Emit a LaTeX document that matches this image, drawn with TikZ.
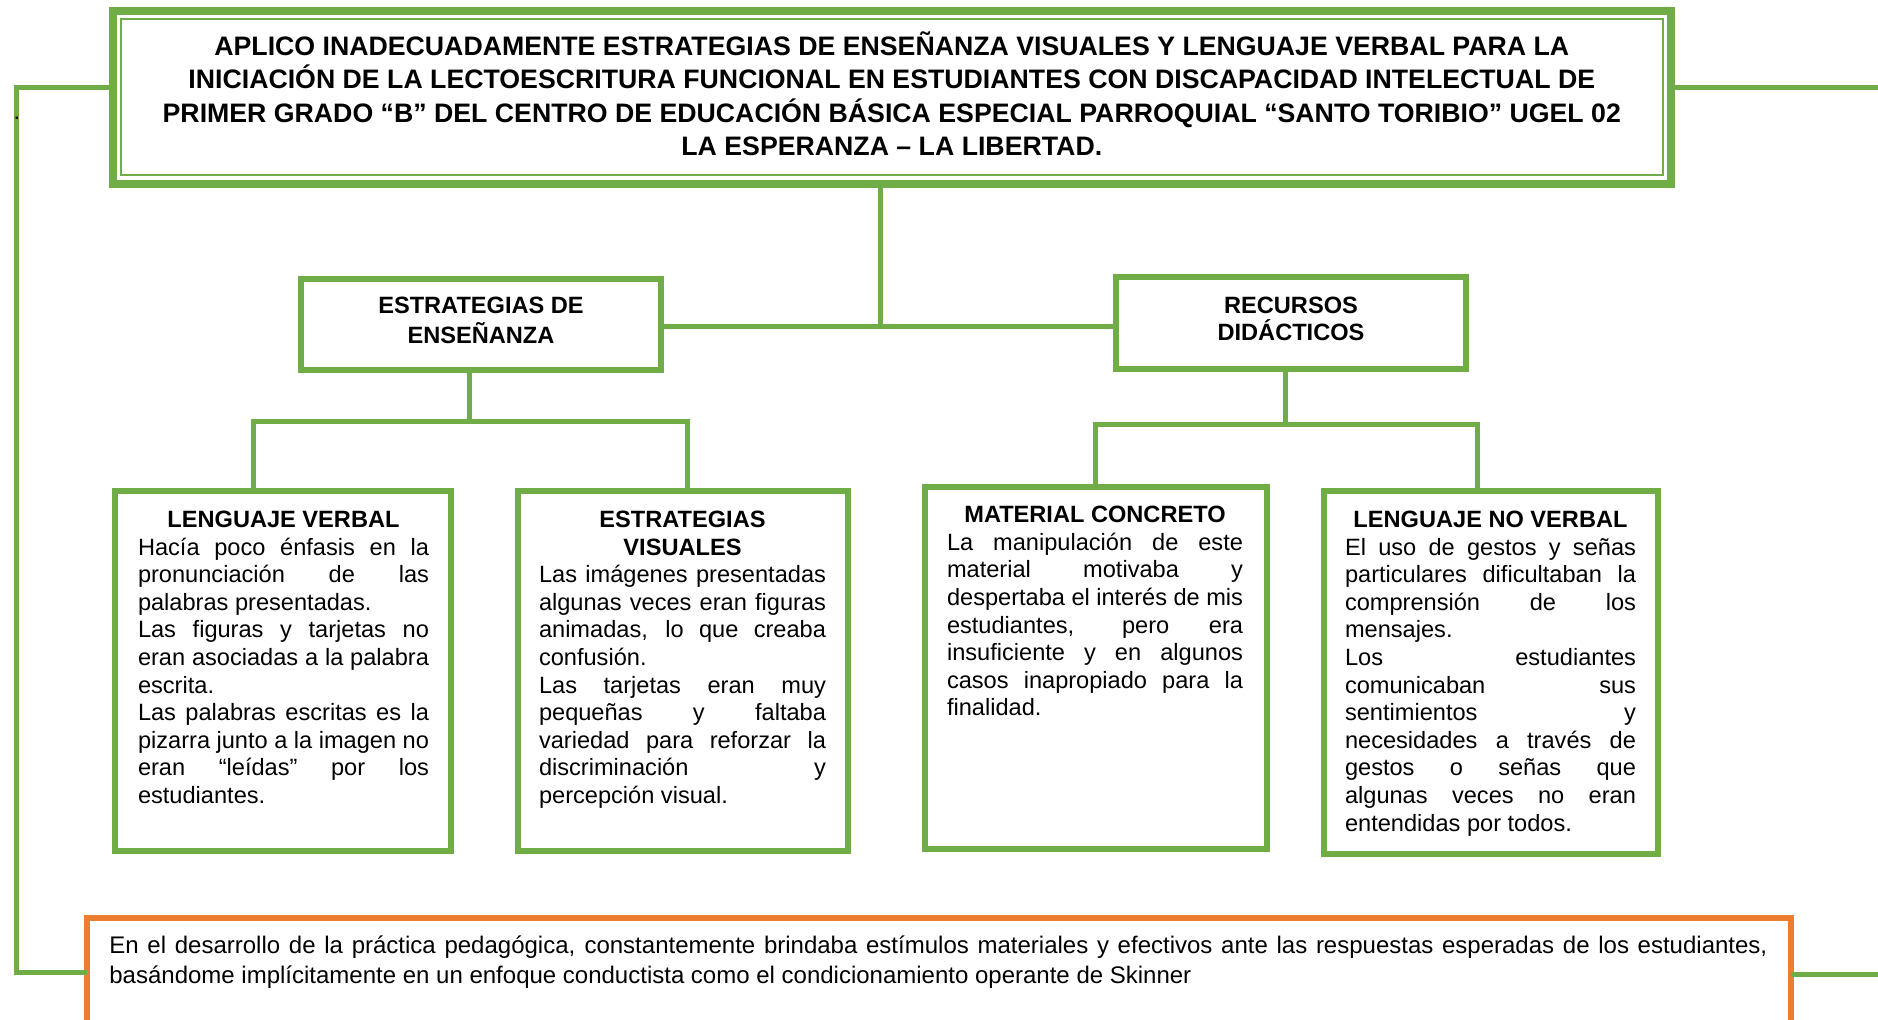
\documentclass[tikz,border=0pt]{standalone}
\usepackage{fontspec}
\setmainfont{Liberation Sans}
\definecolor{gr}{HTML}{70AD47}
\definecolor{orng}{HTML}{ED7D31}
\newcommand{\nsp}{\spaceskip=0pt\xspaceskip=0pt\relax}
\newcommand{\rsp}{\spaceskip=\fontdimen2\font\xspaceskip=\fontdimen2\font\relax}
\newcommand{\jl}[1]{\makebox[\hsize][s]{\nsp #1}}
\newcommand{\cl}[1]{\makebox[\hsize][c]{\bfseries\rsp #1}}
\begin{document}
\begin{tikzpicture}[x=0.5pt,y=-0.5pt,
  gbox/.style={draw=gr, line width=3pt, fill=white, inner sep=0pt, outer sep=0pt},
  obox/.style={draw=orng, line width=3.3pt, fill=white, inner sep=0pt, outer sep=0pt},
  conn/.style={draw=gr, line width=2.5pt},
  body/.style={anchor=north, inner sep=0pt, align=left, font=\fontsize{11.8}{13.8}\selectfont},
  head/.style={anchor=north, inner sep=0pt, align=center, font=\fontsize{11.8}{15}\selectfont\bfseries}]
\useasboundingbox (0,0) rectangle (1878,1019);
\clip (0,0) rectangle (1878,1019);

% boxes
\node[gbox, line width=4pt, minimum width=779.25pt, minimum height=86.35pt] (top) at (891.8,97.7) {};
\draw[gr, line width=1pt] ([xshift=4.1pt,yshift=-3.9pt]top.north west) rectangle ([xshift=-4.2pt,yshift=4.5pt]top.south east);
\node[gbox, minimum width=180pt, minimum height=45.5pt] (est) at (481,324.5) {};
\node[gbox, minimum width=175pt, minimum height=46pt] (rec) at (1291,323) {};
\node[gbox, minimum width=168pt, minimum height=180pt] (lv) at (283,671) {};
\node[gbox, minimum width=165.25pt, minimum height=180pt] (ev) at (682.75,671) {};
\node[gbox, minimum width=170.85pt, minimum height=180.85pt] (mc) at (1095.85,667.85) {};
\node[gbox, minimum width=167pt, minimum height=181.35pt] (lnv) at (1491,672.35) {};
\node[obox, minimum width=852pt, minimum height=91pt] (ob) at (939,1009) {};

% junction coordinates
\coordinate (m) at (880,326);
\coordinate (j1) at (469.5,421);
\coordinate (j1l) at (253,421);
\coordinate (j1r) at (687,421);
\coordinate (j2) at (1285.5,424);
\coordinate (j2l) at (1095,424);
\coordinate (j2r) at (1477.5,424);
\coordinate (l1) at (16,87.5);
\coordinate (l2) at (16,972);
\coordinate (re1) at (1885,87.5);
\coordinate (re2) at (1885,974);

% connectors
\draw[conn] (top.south -| m) -- (m);
\draw[conn] (m -| est.east) -- (m -| rec.west);
\draw[conn] (j1 |- est.south) -- (j1);
\draw[conn] (j1l |- lv.north) -- (j1l) -- (j1r) -- (j1r |- ev.north);
\draw[conn] (j2 |- rec.south) -- (j2);
\draw[conn] (j2l |- mc.north) -- (j2l) -- (j2r) -- (j2r |- lnv.north);
\draw[conn] (top.west |- l1) -- (l1) -- (l2) -- (l2 -| ob.west);
\draw[conn] (top.east |- l1) -- (re1);
\draw[conn] (ob.east |- re2) -- (re2);

\node[inner sep=0pt, anchor=base, font=\fontsize{11.8}{13.8}\selectfont] (dot) at (17,119) {.};

% texts
\node[anchor=north, inner sep=0pt, align=center, text width=760pt, font=\fontsize{13.35}{16.75}\selectfont\bfseries] (toptext) at (891.8,25)
{\rsp\rule{0pt}{15pt}APLICO INADECUADAMENTE ESTRATEGIAS DE ENSEÑANZA VISUALES Y LENGUAJE VERBAL PARA LA\\
INICIACIÓN DE LA LECTOESCRITURA FUNCIONAL EN ESTUDIANTES CON DISCAPACIDAD INTELECTUAL DE\\
PRIMER GRADO “B” DEL CENTRO DE EDUCACIÓN BÁSICA ESPECIAL PARROQUIAL “SANTO TORIBIO” UGEL 02\\
LA ESPERANZA – LA LIBERTAD.};

\node[head, text width=170pt] (estt) at (481,289.5) {\rsp\rule{0pt}{12pt}ESTRATEGIAS DE\\ ENSEÑANZA};
\node[head, text width=170pt, font=\fontsize{11.8}{13.5}\selectfont\bfseries] (rect) at (1291,289) {\rsp\rule{0pt}{12pt}RECURSOS\\ DIDÁCTICOS};

\node[body, text width=145.5pt] (lvt) at (283.5,503) {\rsp\rule{0pt}{12pt}\cl{LENGUAJE VERBAL}\\
\jl{Hacía poco énfasis en la}\\
\jl{pronunciación de las}\\
palabras presentadas.\\
\jl{Las figuras y tarjetas no}\\
\jl{eran asociadas a la palabra}\\
escrita.\\
\jl{Las palabras escritas es la}\\
\jl{pizarra junto a la imagen no}\\
\jl{eran “leídas” por los}\\
estudiantes.};

\node[body, text width=143.5pt] (evt) at (682.5,503) {\rsp\rule{0pt}{12pt}\cl{ESTRATEGIAS}\\
\cl{VISUALES}\\
\jl{Las imágenes presentadas}\\
\jl{algunas veces eran figuras}\\
\jl{animadas, lo que creaba}\\
confusión.\\
\jl{Las tarjetas eran muy}\\
\jl{pequeñas y faltaba}\\
\jl{variedad para reforzar la}\\
\jl{discriminación y}\\
percepción visual.};

\node[body, text width=148pt] (mct) at (1095,498.3) {\rsp\rule{0pt}{12pt}\cl{MATERIAL CONCRETO}\\
\jl{La manipulación de este}\\
\jl{material motivaba y}\\
\jl{despertaba el interés de mis}\\
\jl{estudiantes, pero era}\\
\jl{insuficiente y en algunos}\\
\jl{casos inapropiado para la}\\
finalidad.};

\node[body, text width=145.5pt] (lnvt) at (1490.5,503) {\rsp\rule{0pt}{12pt}\cl{LENGUAJE NO VERBAL}\\
\jl{El uso de gestos y señas}\\
\jl{particulares dificultaban la}\\
\jl{comprensión de los}\\
mensajes.\\
\jl{Los estudiantes}\\
\jl{comunicaban sus}\\
\jl{sentimientos y}\\
\jl{necesidades a través de}\\
\jl{gestos o señas que}\\
\jl{algunas veces no eran}\\
entendidas por todos.};

\node[anchor=north west, inner sep=0pt, align=left, text width=829pt, font=\fontsize{12}{15}\selectfont] (obt) at (109,929)
{\rsp\rule{0pt}{12pt}\jl{En el desarrollo de la práctica pedagógica, constantemente brindaba estímulos materiales y efectivos ante las respuestas esperadas de los estudiantes,}\\
basándome implícitamente en un enfoque conductista como el condicionamiento operante de Skinner};
\end{tikzpicture}
\end{document}
